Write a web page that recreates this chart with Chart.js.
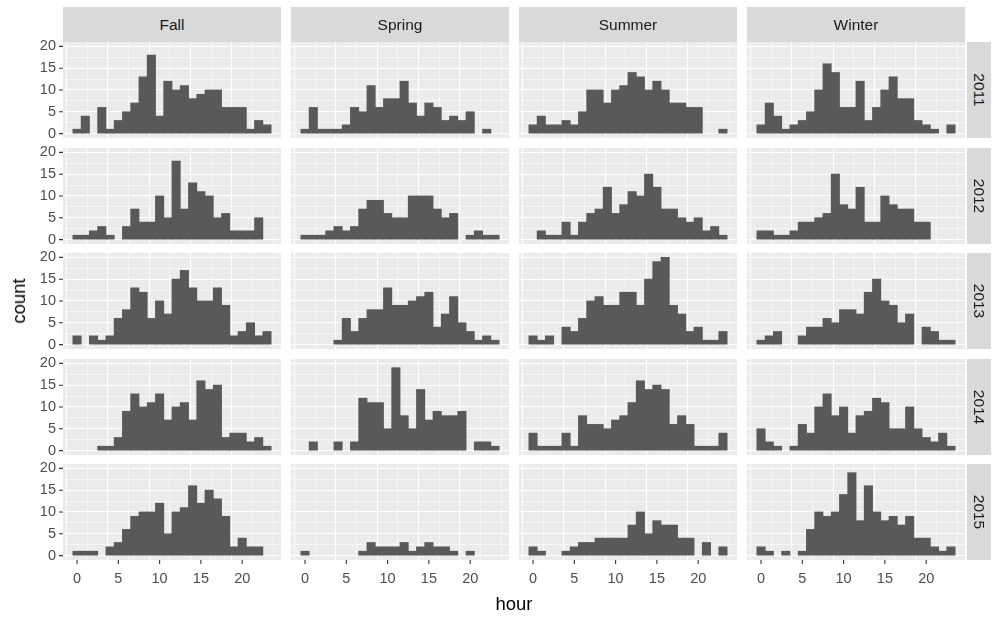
<!DOCTYPE html>
<html><head><meta charset="utf-8">
<script src="https://cdn.jsdelivr.net/npm/chart.js@4.4.1/dist/chart.umd.min.js"></script>
<style>
html,body{margin:0;padding:0;background:#fff}
body{width:992px;height:617px;position:relative;overflow:hidden;font-family:"Liberation Sans",Arial,sans-serif}
canvas{position:absolute}
.strip{position:absolute;background:#D9D9D9;color:#1A1A1A;font-size:15.5px;display:flex;align-items:center;justify-content:center}
.strip.right span{transform:rotate(90deg);display:block;white-space:nowrap}
.title{position:absolute;color:#000;font-size:18.5px}
</style></head><body>
<script>
const seasons = ["Fall","Spring","Summer","Winter"];
const years = ["2011","2012","2013","2014","2015"];
const hours = [0,1,2,3,4,5,6,7,8,9,10,11,12,13,14,15,16,17,18,19,20,21,22,23];
const xTicks = [0,2.5,5,7.5,10,12.5,15,17.5,20,22.5];
const yTicks = [0,2.5,5,7.5,10,12.5,15,17.5,20];

const fall2011   = [1,4,0,6,1,3,5,7,13,18,4,12,10,11,8,9,10,10,6,6,6,1,3,2];
const spring2011 = [1,6,1,1,1,2,6,5,11,6,8,8,12,7,4,7,6,3,4,3,5,0,1,0];
const summer2011 = [2,4,2,2,3,2,5,10,10,7,10,11,14,13,10,12,10,7,7,6,6,0,0,1];
const winter2011 = [2,7,4,1,2,3,5,10,16,14,6,6,12,3,6,10,13,8,8,3,2,1,0,2];
const fall2012   = [1,1,2,3,1,0,3,7,4,4,10,5,18,7,13,11,10,5,6,2,2,2,5,0];
const spring2012 = [1,1,1,2,3,2,3,7,9,9,6,5,5,10,10,10,7,5,6,0,1,2,1,1];
const summer2012 = [0,2,1,1,4,1,4,6,7,12,6,8,11,10,15,12,7,7,5,4,5,2,3,1];
const winter2012 = [2,2,1,1,2,4,4,5,6,15,8,7,12,4,4,10,8,7,7,4,4,0,0,0];
const fall2013   = [2,0,2,1,2,6,8,13,12,6,10,7,15,17,13,10,10,13,9,2,3,5,2,3];
const spring2013 = [0,0,0,0,1,6,3,6,8,8,13,9,9,10,11,12,4,7,11,5,3,1,2,1];
const summer2013 = [2,1,2,0,4,3,6,10,11,9,9,12,12,9,15,19,20,9,7,3,4,1,1,3];
const winter2013 = [1,2,3,0,0,2,4,4,6,5,8,8,7,12,15,10,9,5,7,0,4,3,1,1];
const fall2014   = [0,0,0,1,1,3,9,13,10,11,13,7,10,11,7,16,14,15,3,4,4,2,3,1];
const spring2014 = [0,2,0,0,2,0,2,12,11,11,5,19,8,5,14,7,9,8,8,9,0,2,2,1];
const summer2014 = [4,1,1,1,4,1,8,6,6,5,7,8,11,16,14,15,14,6,8,6,1,1,1,4];
const winter2014 = [5,2,1,0,1,6,4,10,13,8,10,4,8,9,12,11,5,5,10,5,3,2,4,1];
const fall2015   = [1,1,1,0,2,3,6,9,10,10,12,5,10,11,16,12,15,13,9,2,4,2,2,0];
const spring2015 = [1,0,0,0,0,0,0,1,3,2,2,2,3,1,2,3,2,2,1,0,1,0,0,0];
const summer2015 = [2,1,0,0,1,2,3,3,4,4,4,4,7,10,5,8,7,7,4,4,0,3,0,2];
const winter2015 = [2,1,0,1,0,1,6,10,9,10,14,19,8,16,10,8,9,7,9,4,4,2,1,2];

const grid = [
  [fall2011, spring2011, summer2011, winter2011],
  [fall2012, spring2012, summer2012, winter2012],
  [fall2013, spring2013, summer2013, winter2013],
  [fall2014, spring2014, summer2014, winter2014],
  [fall2015, spring2015, summer2015, winter2015]
];

const FONT = '"Liberation Sans", Arial, sans-serif';
const panelX = [63, 291, 519, 747];
const panelY = [42, 148, 253, 359, 464];
const PW = 218, PH = 96, M = 10, YAX = 63, XAX = 30, TICK = 4;

const bgPlugin = {
  id: 'panelBg',
  beforeDraw(chart) {
    const {ctx, chartArea: a} = chart;
    ctx.save();
    ctx.fillStyle = '#EBEBEB';
    ctx.fillRect(a.left, a.top, a.right - a.left, a.bottom - a.top);
    ctx.restore();
  }
};

// ggplot-style outside tick marks at the major breaks, placed with the chart's own scales
const tickPlugin = {
  id: 'ggTicks',
  afterDraw(chart, args, opts) {
    const {ctx, chartArea: a, scales} = chart;
    ctx.save();
    ctx.strokeStyle = '#333333';
    ctx.lineWidth = 1.1;
    ctx.beginPath();
    if (opts.bottom) {
      scales.x.ticks.forEach(t => {
        if (t.value % 5 !== 0) return;
        const p = scales.x.getPixelForValue(t.value);
        ctx.moveTo(p, a.bottom); ctx.lineTo(p, a.bottom + TICK);
      });
    }
    if (opts.left) {
      scales.y.ticks.forEach(t => {
        if (t.value % 5 !== 0) return;
        const p = scales.y.getPixelForValue(t.value);
        ctx.moveTo(a.left, p); ctx.lineTo(a.left - TICK, p);
      });
    }
    ctx.stroke();
    ctx.restore();
  }
};

function isMajor(ctx) { return !!ctx.tick && Math.abs(ctx.tick.value % 5) < 1e-9; }

function makePanel(r, c) {
  const isLeft = c === 0, isBottom = r === grid.length - 1;
  const cv = document.createElement('canvas');
  const w = PW + 2 * M + (isLeft ? YAX : 0);
  const h = PH + 2 * M + (isBottom ? XAX : 0);
  cv.width = w; cv.height = h;
  cv.style.left = (panelX[c] - M - (isLeft ? YAX : 0)) + 'px';
  cv.style.top = (panelY[r] - M) + 'px';
  cv.style.width = w + 'px'; cv.style.height = h + 'px';
  document.body.appendChild(cv);
  const vals = grid[r][c];
  new Chart(cv, {
    type: 'bar',
    data: { datasets: [{
      data: hours.map((hr, i) => ({ x: hr, y: vals[i] === 0 ? null : vals[i] })),
      backgroundColor: '#595959', borderWidth: 0,
      barPercentage: 1, categoryPercentage: 1, inflateAmount: 0.4
    }]},
    options: {
      responsive: false, animation: false, devicePixelRatio: 1,
      layout: { padding: M },
      plugins: { legend: { display: false }, tooltip: { enabled: false },
                 ggTicks: { left: isLeft, bottom: isBottom } },
      scales: {
        x: {
          type: 'linear', min: -1.7, max: 24.7, bounds: 'data', offset: false,
          afterBuildTicks: s => { s.ticks = xTicks.map(v => ({ value: v })); },
          afterFit: s => { s.height = isBottom ? XAX : 0; s.paddingLeft = 0; s.paddingRight = 0; s.paddingTop = 0; s.paddingBottom = 0; },
          border: { display: false },
          grid: { color: '#FFFFFF', lineWidth: ctx => isMajor(ctx) ? 1.1 : 0.55, drawTicks: false },
          ticks: {
            display: isBottom, autoSkip: false, maxRotation: 0, padding: 10,
            color: '#4D4D4D', font: { family: FONT, size: 14.5 },
            callback: v => (v % 5 === 0 ? String(v) : '')
          }
        },
        y: {
          type: 'linear', min: -1, max: 21, bounds: 'data',
          afterBuildTicks: s => { s.ticks = yTicks.map(v => ({ value: v })); },
          afterFit: s => { s.width = isLeft ? YAX : 0; s.paddingLeft = 0; s.paddingRight = 0; s.paddingTop = 0; s.paddingBottom = 0; },
          border: { display: false },
          grid: { color: '#FFFFFF', lineWidth: ctx => isMajor(ctx) ? 1.1 : 0.55, drawTicks: false },
          ticks: {
            display: isLeft, autoSkip: false, padding: 7,
            color: '#4D4D4D', font: { family: FONT, size: 14.5 },
            callback: v => (v % 5 === 0 ? String(v) : '')
          }
        }
      }
    },
    plugins: [bgPlugin, tickPlugin]
  });
}

for (let r = 0; r < grid.length; r++) for (let c = 0; c < seasons.length; c++) makePanel(r, c);

// facet strips
seasons.forEach((s, c) => {
  const d = document.createElement('div');
  d.className = 'strip';
  d.style.left = panelX[c] + 'px'; d.style.top = '7px';
  d.style.width = PW + 'px'; d.style.height = '35px';
  d.textContent = s;
  document.body.appendChild(d);
});
years.forEach((y, r) => {
  const d = document.createElement('div');
  d.className = 'strip right';
  d.style.left = '967px'; d.style.top = panelY[r] + 'px';
  d.style.width = '24px'; d.style.height = PH + 'px';
  const sp = document.createElement('span'); sp.textContent = y;
  d.appendChild(sp);
  document.body.appendChild(d);
});

// axis titles
const xt = document.createElement('div');
xt.className = 'title'; xt.textContent = 'hour';
xt.style.left = '0px'; xt.style.width = (2 * 514) + 'px'; xt.style.textAlign = 'center';
xt.style.top = '593px';
document.body.appendChild(xt);
const yt = document.createElement('div');
yt.className = 'title'; yt.textContent = 'count';
yt.style.left = '19px'; yt.style.top = '301px';
yt.style.transform = 'translate(-50%,-50%) rotate(-90deg)';
document.body.appendChild(yt);
</script>
</body></html>
